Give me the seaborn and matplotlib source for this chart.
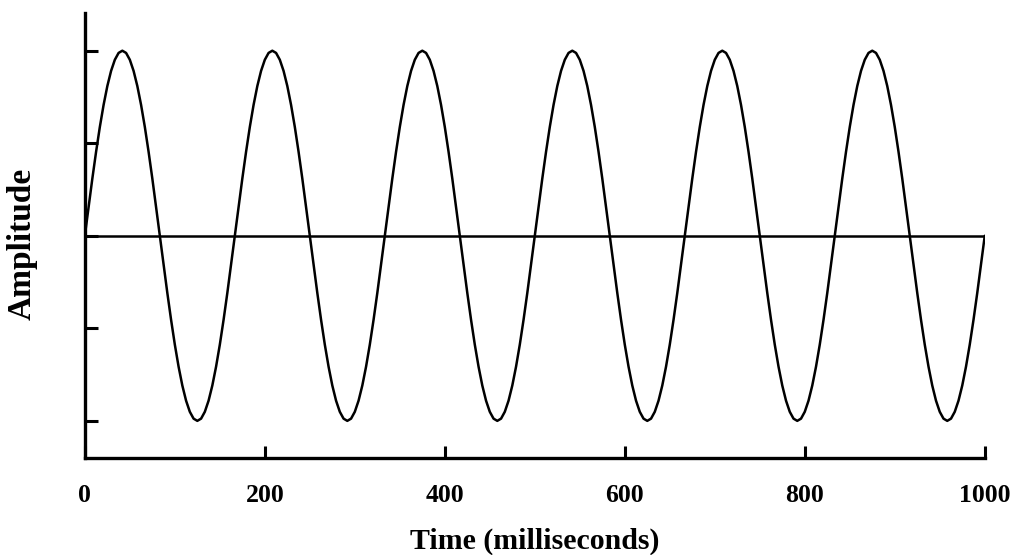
import numpy as np
import pandas as pd
import matplotlib
matplotlib.use("Agg")
import matplotlib.pyplot as plt
import seaborn as sns

cycle = [0.000, 0.156, 0.309, 0.454, 0.588, 0.707, 0.809, 0.891, 0.951, 0.988,
         1.000, 0.988, 0.951, 0.891, 0.809, 0.707, 0.588, 0.454, 0.309, 0.156,
         0.000, -0.156, -0.309, -0.454, -0.588, -0.707, -0.809, -0.891, -0.951, -0.988,
         -1.000, -0.988, -0.951, -0.891, -0.809, -0.707, -0.588, -0.454, -0.309, -0.156]
n_cycles = 6
amplitude = cycle * n_cycles + [0.000]
time_ms = np.linspace(0, 1000, len(amplitude))

baseline_time = [0, 1000]
baseline_amp = [0, 0]

x_ticks = [0, 200, 400, 600, 800, 1000]
y_ticks = [-1, -0.5, 0, 0.5, 1]

sns.set_style("white")
plt.rcParams['font.family'] = ['Liberation Serif', 'DejaVu Serif']
plt.rcParams['font.weight'] = 'bold'
plt.rcParams['text.color'] = 'black'
plt.rcParams['axes.labelcolor'] = 'black'
plt.rcParams['xtick.color'] = 'black'
plt.rcParams['ytick.color'] = 'black'

df = pd.DataFrame({"Time": time_ms, "Amplitude": amplitude})
base = pd.DataFrame({"Time": baseline_time, "Amplitude": baseline_amp})

fig = plt.figure(figsize=(10.1, 5.55), dpi=100)
ax = fig.add_axes([0.084, 0.175, 0.891, 0.802])

sns.lineplot(data=base, x="Time", y="Amplitude", color="black", lw=1.8, ax=ax)
sns.lineplot(data=df, x="Time", y="Amplitude", color="black", lw=1.8, ax=ax)

ax.set_xlim(0, 1000)
ax.set_ylim(-1.2, 1.205)
ax.set_xticks(x_ticks)
ax.set_xticklabels([str(t) for t in x_ticks], fontsize=18.5, fontweight='bold', color='black')
ax.set_yticks(y_ticks)
ax.set_yticklabels([])
ax.tick_params(axis='both', direction='in', length=9, width=2.2, color='black',
               bottom=True, left=True)
ax.tick_params(axis='x', pad=19)

for s in ['top', 'right']:
    ax.spines[s].set_visible(False)
for s in ['left', 'bottom']:
    ax.spines[s].set_linewidth(2.4)
    ax.spines[s].set_color('black')

ax.set_xlabel("Time (milliseconds)", fontsize=21.5, fontweight='bold', labelpad=15, color='black')
ax.set_ylabel("Amplitude", fontsize=24, fontweight='bold', color='black')
ax.yaxis.set_label_coords(-0.052, 0.48)

fig.savefig("out.png", dpi=100)
